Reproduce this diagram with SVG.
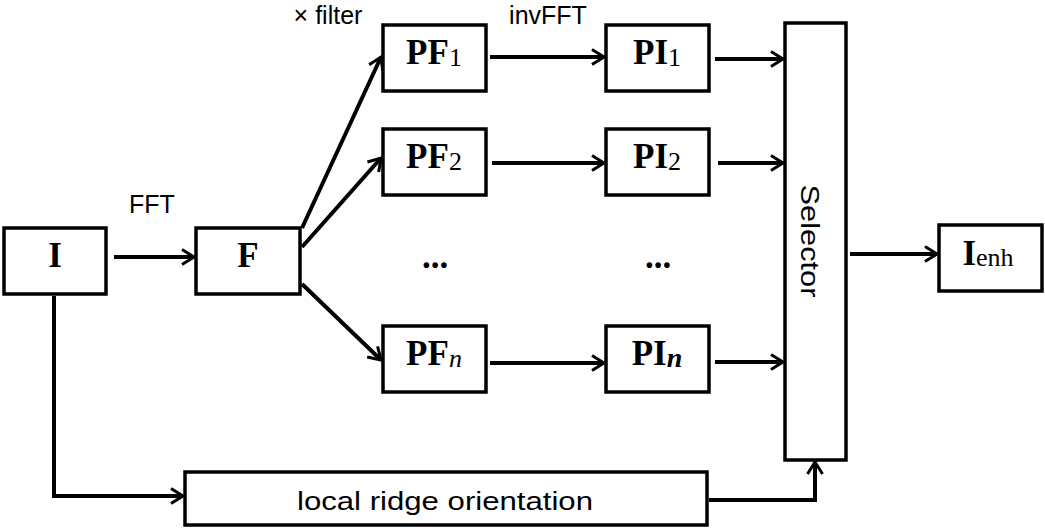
<svg xmlns="http://www.w3.org/2000/svg" width="1045" height="529" viewBox="0 0 1045 529">
<style>
.box{fill:#fff;stroke:#000;stroke-width:3.5}
.con{fill:none;stroke:#000;stroke-width:4}
.arr{marker-end:url(#ah)}
.lbl{font-family:"Liberation Serif","Times New Roman",serif;font-weight:bold;font-size:35px;text-anchor:middle;fill:#000}
.sub{font-weight:normal;font-size:26px}
.sans{font-family:"Liberation Sans",Arial,sans-serif;font-size:25px;fill:#000}
</style>
<defs>
<marker id="ah" markerUnits="userSpaceOnUse" markerWidth="30" markerHeight="30" refX="0" refY="0" orient="auto" style="overflow:visible">
<path d="M-12,-7.5 L0,0 L-12,7.5" fill="none" stroke="#000" stroke-width="3"/>
</marker>
</defs>
<rect width="1045" height="529" fill="#fff"/>
<g id="connectors">
<path class="con arr" d="M114,257 H194"/>
<path class="con arr" d="M302,228 L381,57"/>
<path class="con arr" d="M302,247 L381,158"/>
<path class="con arr" d="M302,284 L381,360"/>
<path class="con arr" d="M490,57 H604"/>
<path class="con arr" d="M492,163 H604"/>
<path class="con arr" d="M490,363 H604"/>
<path class="con arr" d="M715,59 H783"/>
<path class="con arr" d="M718,163 H783"/>
<path class="con arr" d="M715,362 H783"/>
<path class="con arr" d="M850,254 H937"/>
<path class="con arr" d="M54,296 V496 H183"/>
<path class="con arr" d="M709,500 H815 V462"/>
</g>
<g id="labels">
<text class="sans" x="152" y="213" text-anchor="middle">FFT</text>
<text class="sans" x="328" y="24" text-anchor="middle">× filter</text>
<text class="sans" x="548" y="24" text-anchor="middle">invFFT</text>
</g>
<g id="node-I">
<rect class="box" x="4" y="228" width="102" height="66"/>
<text class="lbl" x="55" y="267" font-size="36">I</text>
</g>
<g id="node-F">
<rect class="box" x="196" y="228" width="104" height="66"/>
<text class="lbl" x="248" y="267" font-size="36">F</text>
</g>
<g id="node-PF1">
<rect class="box" x="383" y="25" width="103" height="66"/>
<text class="lbl" x="434" y="64">PF<tspan class="sub" dy="2">1</tspan></text>
</g>
<g id="node-PF2">
<rect class="box" x="383" y="129" width="103" height="66"/>
<text class="lbl" x="434" y="168">PF<tspan class="sub" dy="2">2</tspan></text>
</g>
<g id="node-PFn">
<rect class="box" x="383" y="326" width="103" height="66"/>
<text class="lbl" x="434" y="365">PF<tspan class="sub" dy="2" font-style="italic">n</tspan></text>
</g>
<g id="node-PI1">
<rect class="box" x="606" y="25" width="103" height="66"/>
<text class="lbl" x="657" y="64">PI<tspan class="sub" dy="2">1</tspan></text>
</g>
<g id="node-PI2">
<rect class="box" x="606" y="129" width="103" height="66"/>
<text class="lbl" x="657" y="168">PI<tspan class="sub" dy="2">2</tspan></text>
</g>
<g id="node-PIn">
<rect class="box" x="606" y="326" width="103" height="66"/>
<text class="lbl" x="657" y="365">PI<tspan dy="2" font-style="italic" font-size="28px">n</tspan></text>
</g>
<g id="dots">
<text class="lbl" x="435" y="268">...</text>
<text class="lbl" x="658" y="268">...</text>
</g>
<g id="node-selector">
<rect class="box" x="785" y="23" width="61" height="437"/>
<text class="sans" font-size="30" transform="translate(801,241) rotate(90)" text-anchor="middle" textLength="113" lengthAdjust="spacingAndGlyphs">Selector</text>
</g>
<g id="node-Ienh">
<rect class="box" x="939" y="225" width="103" height="66"/>
<text class="lbl" x="988" y="265">I<tspan class="sub" dy="1">enh</tspan></text>
</g>
<g id="node-lro">
<rect class="box" x="185" y="472" width="522" height="53"/>
<text class="sans" font-size="33" x="445" y="510" text-anchor="middle" textLength="296" lengthAdjust="spacingAndGlyphs">local ridge orientation</text>
</g>
</svg>
